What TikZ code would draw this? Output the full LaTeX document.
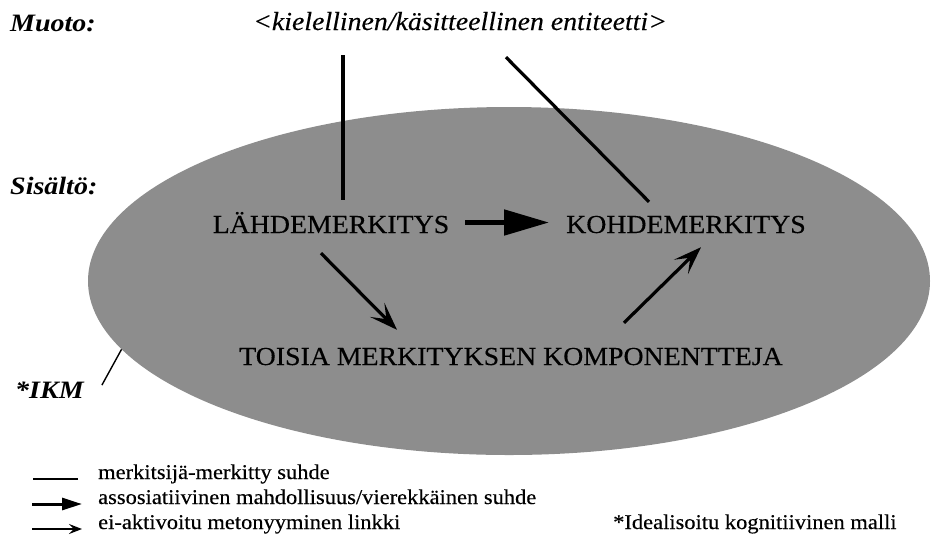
\documentclass[tikz,border=0pt]{standalone}
\usepackage{fontspec}
\setmainfont{Liberation Serif}
\newfontfamily\meaningfont[FakeStretch=1.07,FakeBold=0.3]{Liberation Serif}
\newfontfamily\headfont[FakeStretch=1.12]{Liberation Serif}
\newfontfamily\legendfont[FakeStretch=1.07,FakeBold=0.35]{Liberation Serif}
\usetikzlibrary{arrows.meta,shapes.geometric}
\definecolor{ikmgray}{RGB}{141,141,141}
\begin{document}
\begin{tikzpicture}[x=1pt,y=-1pt,
  heading/.style={font=\headfont\fontsize{25}{28}\selectfont\bfseries\itshape,anchor=base west,inner sep=0pt},
  meaning/.style={font=\meaningfont\fontsize{26}{30}\selectfont,anchor=base,inner sep=0pt,text height=17pt,text depth=0pt},
  legendtext/.style={font=\legendfont\fontsize{21}{24}\selectfont,anchor=base west,inner sep=0pt,text height=12pt,text depth=0pt},
  relation/.style={line width=3.2pt},
  assoc/.style={line width=5pt,-{Triangle[length=45pt,width=25pt]}},
  metonymy/.style={line width=3.2pt,-{Stealth[length=28pt,width=20pt,inset=13pt]}},
]
\useasboundingbox (0,0) rectangle (931,542);

% the idealised cognitive model
\node[ellipse,fill=ikmgray,minimum width=842pt,minimum height=348pt,inner sep=0pt] (icm) at (509,281) {};

% level labels
\node[heading] (form) at (10,31) {Muoto:};
\node[heading] (content) at (10,194) {Sisältö:};
\node[heading] (ikm) at (15,398) {*IKM};

% form and meanings
\node[meaning,font=\meaningfont\fontsize{26}{30}\selectfont\itshape] (ent) at (460,30) {<kielellinen/käsitteellinen entiteetti>};
\node[meaning] (src) at (331,233) {LÄHDEMERKITYS};
\node[meaning] (tgt) at (686,233) {KOHDEMERKITYS};
\node[meaning] (oth) at (511,365) {TOISIA MERKITYKSEN KOMPONENTTEJA};

% signifier-signified relations
\draw[relation] ([xshift=-117pt,yshift=-25pt]ent.south) -- ([xshift=12pt,yshift=16pt]src.north);
\draw[relation] ([xshift=46pt,yshift=-27pt]ent.south) -- ([xshift=-37pt,yshift=14pt]tgt.north);

% associative contiguity
\draw[assoc] ([xshift=16pt,yshift=2pt]src.east) -- ([xshift=-17pt,yshift=2pt]tgt.west);

% non-activated metonymic links
\draw[metonymy] ([xshift=-10pt,yshift=-20pt]src.south) -- ([xshift=-114pt,yshift=18pt]oth.north);
\draw[metonymy] ([xshift=113pt,yshift=25pt]oth.north) -- ([xshift=15pt,yshift=-14pt]tgt.south);

% pointer to the model
\draw[line width=1.4pt] ([xshift=18pt,yshift=-4pt]ikm.north east) -- (icm.190.7);

% legend
\node[legendtext] (lg1) at (98,479) {merkitsijä-merkitty suhde};
\node[legendtext] (lg2) at (98,504) {assosiatiivinen mahdollisuus/vierekkäinen suhde};
\node[legendtext] (lg3) at (98,529) {ei-aktivoitu metonyyminen linkki};
\node[legendtext] (lg4) at (613,529) {*Idealisoitu kognitiivinen malli};
\draw[line width=1.8pt] ([xshift=-20pt,yshift=-6pt]lg1.west) -- ++(-45,0);
\draw[line width=3pt,-{Triangle[length=20pt,width=12pt]}] ([xshift=-66pt,yshift=-6pt]lg2.west) -- ++(50,0);
\draw[line width=1.6pt,-{Stealth[length=13pt,width=10pt,inset=5pt]}] ([xshift=-66pt,yshift=-6pt]lg3.west) -- ++(50,0);
\end{tikzpicture}
\end{document}
